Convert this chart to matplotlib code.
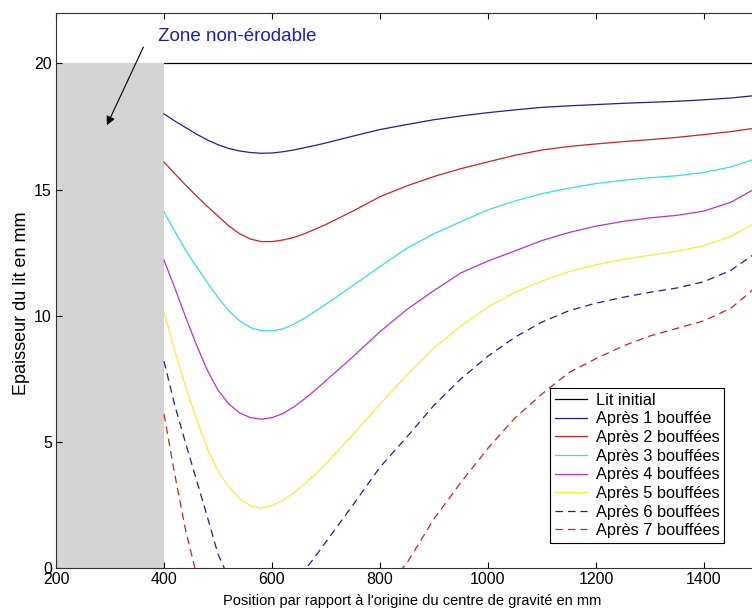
import matplotlib
matplotlib.use("Agg")
import matplotlib.pyplot as plt

plt.rcParams['font.family'] = ['Liberation Sans', 'DejaVu Sans']

# positions (mm) where the bed thickness was read
positions = [400, 420, 440, 460, 480, 500, 520, 540, 560, 580, 600, 620, 640, 660, 680, 700,
             750, 800, 850, 900, 950, 1000, 1050, 1100, 1150, 1200, 1250, 1300, 1350, 1400, 1450, 1500]

lit_x = [400, 1500]
lit_initial = [20, 20]

apres_1 = [18.0, 17.72, 17.46, 17.2, 16.97, 16.78, 16.63, 16.53, 16.47, 16.44, 16.45, 16.5, 16.57, 16.66, 16.75, 16.85,
           17.12, 17.38, 17.58, 17.77, 17.92, 18.05, 18.16, 18.26, 18.32, 18.37, 18.42, 18.46, 18.5, 18.56, 18.63, 18.74]
apres_2 = [16.09, 15.63, 15.18, 14.75, 14.34, 13.95, 13.56, 13.25, 13.04, 12.94, 12.94, 13.0, 13.1, 13.25, 13.43, 13.62,
           14.15, 14.72, 15.15, 15.52, 15.83, 16.1, 16.36, 16.57, 16.71, 16.81, 16.9, 16.98, 17.07, 17.18, 17.3, 17.45]
apres_3 = [14.12, 13.34, 12.6, 11.95, 11.32, 10.72, 10.2, 9.8, 9.53, 9.41, 9.4, 9.48, 9.66, 9.9, 10.18, 10.46,
           11.2, 11.95, 12.68, 13.25, 13.73, 14.2, 14.55, 14.84, 15.06, 15.24, 15.37, 15.47, 15.55, 15.68, 15.9, 16.25]
apres_4 = [12.2, 11.1, 9.95, 8.85, 7.85, 7.05, 6.5, 6.15, 5.96, 5.9, 5.96, 6.12, 6.38, 6.7, 7.05, 7.43,
           8.38, 9.37, 10.25, 11.0, 11.7, 12.17, 12.57, 12.98, 13.3, 13.55, 13.74, 13.88, 13.98, 14.15, 14.5, 15.1]
apres_5 = [10.15, 8.6, 7.2, 5.9, 4.75, 3.85, 3.2, 2.75, 2.47, 2.37, 2.47, 2.68, 2.98, 3.33, 3.72, 4.14,
           5.3, 6.5, 7.65, 8.72, 9.6, 10.35, 10.93, 11.38, 11.75, 12.02, 12.23, 12.4, 12.56, 12.78, 13.15, 13.75]
apres_6 = [8.2, 6.45, 4.95, 3.5, 2.05, 0.55, -0.4, -0.9, -1.1, -1.2, -1.12, -0.9, -0.58, -0.1, 0.45, 1.04,
           2.5, 4.0, 5.2, 6.45, 7.5, 8.4, 9.15, 9.75, 10.2, 10.5, 10.73, 10.93, 11.1, 11.35, 11.8, 12.55]
apres_7 = [6.1, 3.7, 1.5, -0.25, -1.6, -2.6, -3.4, -4.0, -4.4, -4.6, -4.65, -4.55, -4.3, -3.95, -3.6, -3.2,
           -2.1, -1.0, 0.2, 1.95, 3.4, 4.75, 5.95, 6.9, 7.75, 8.3, 8.8, 9.2, 9.5, 9.8, 10.3, 11.2]

labels = ['Lit initial', 'Après 1 bouffée', 'Après 2 bouffées', 'Après 3 bouffées',
          'Après 4 bouffées', 'Après 5 bouffées', 'Après 6 bouffées', 'Après 7 bouffées']

fig = plt.figure(figsize=(7.52, 6.16), dpi=100)
ax = fig.add_axes([56 / 752, 48 / 616, 702 / 752, 555 / 616])

# zone non erodable (grey block)
ax.fill_between([200, 400], [0, 0], [20, 20], color='#d4d4d4', lw=0, zorder=1)

lw = 0.9
ax.plot(lit_x, lit_initial, color='black', lw=lw, label=labels[0])
ax.plot(positions, apres_1, color='#1c1ca8', lw=lw, label=labels[1])
ax.plot(positions, apres_2, color='#d02020', lw=lw, label=labels[2])
ax.plot(positions, apres_3, color='#30e0e0', lw=lw, label=labels[3])
ax.plot(positions, apres_4, color='#c030c8', lw=lw, label=labels[4])
ax.plot(positions, apres_5, color='#f4f030', lw=lw, label=labels[5])
ax.plot(positions, apres_6, color='#1c1ca8', lw=lw, ls=(0, (6, 4)), label=labels[6])
ax.plot(positions, apres_7, color='#d02020', lw=lw, ls=(0, (6, 4)), label=labels[7])

ax.set_xlim(200, 1500)
ax.set_ylim(0, 22)
ax.set_xticks([200, 400, 600, 800, 1000, 1200, 1400])
ax.set_yticks([0, 5, 10, 15, 20])
ax.tick_params(direction='in', length=4.5, width=0.8, top=True, right=True, labelsize=11.5, pad=3)
for sp in ax.spines.values():
    sp.set_color('#303030')
    sp.set_linewidth(0.8)

ax.set_xlabel("Position par rapport à l'origine du centre de gravité en mm", fontsize=10.5)
ax.xaxis.set_label_coords(0.508, -0.046)
ax.set_ylabel('Epaisseur du lit en mm', fontsize=13)
ax.yaxis.set_label_coords(-0.037, 0.477)

ax.text(388, 21.05, 'Zone non-érodable', color='#1a1ad0', fontsize=13.5, va='center', ha='left')
ax.annotate('', xy=(292, 17.45), xytext=(364, 20.75),
            arrowprops=dict(arrowstyle='-|>', color='black', lw=0.8, mutation_scale=13))

leg = ax.legend(loc='lower right', bbox_to_anchor=(0.952, 0.045), borderaxespad=0,
                fontsize=11.8, fancybox=False, framealpha=1, edgecolor='black',
                handlelength=2.0, handletextpad=0.5, labelspacing=0.22, borderpad=0.3)
leg.get_frame().set_linewidth(0.8)

fig.savefig('out.png', dpi=100)
